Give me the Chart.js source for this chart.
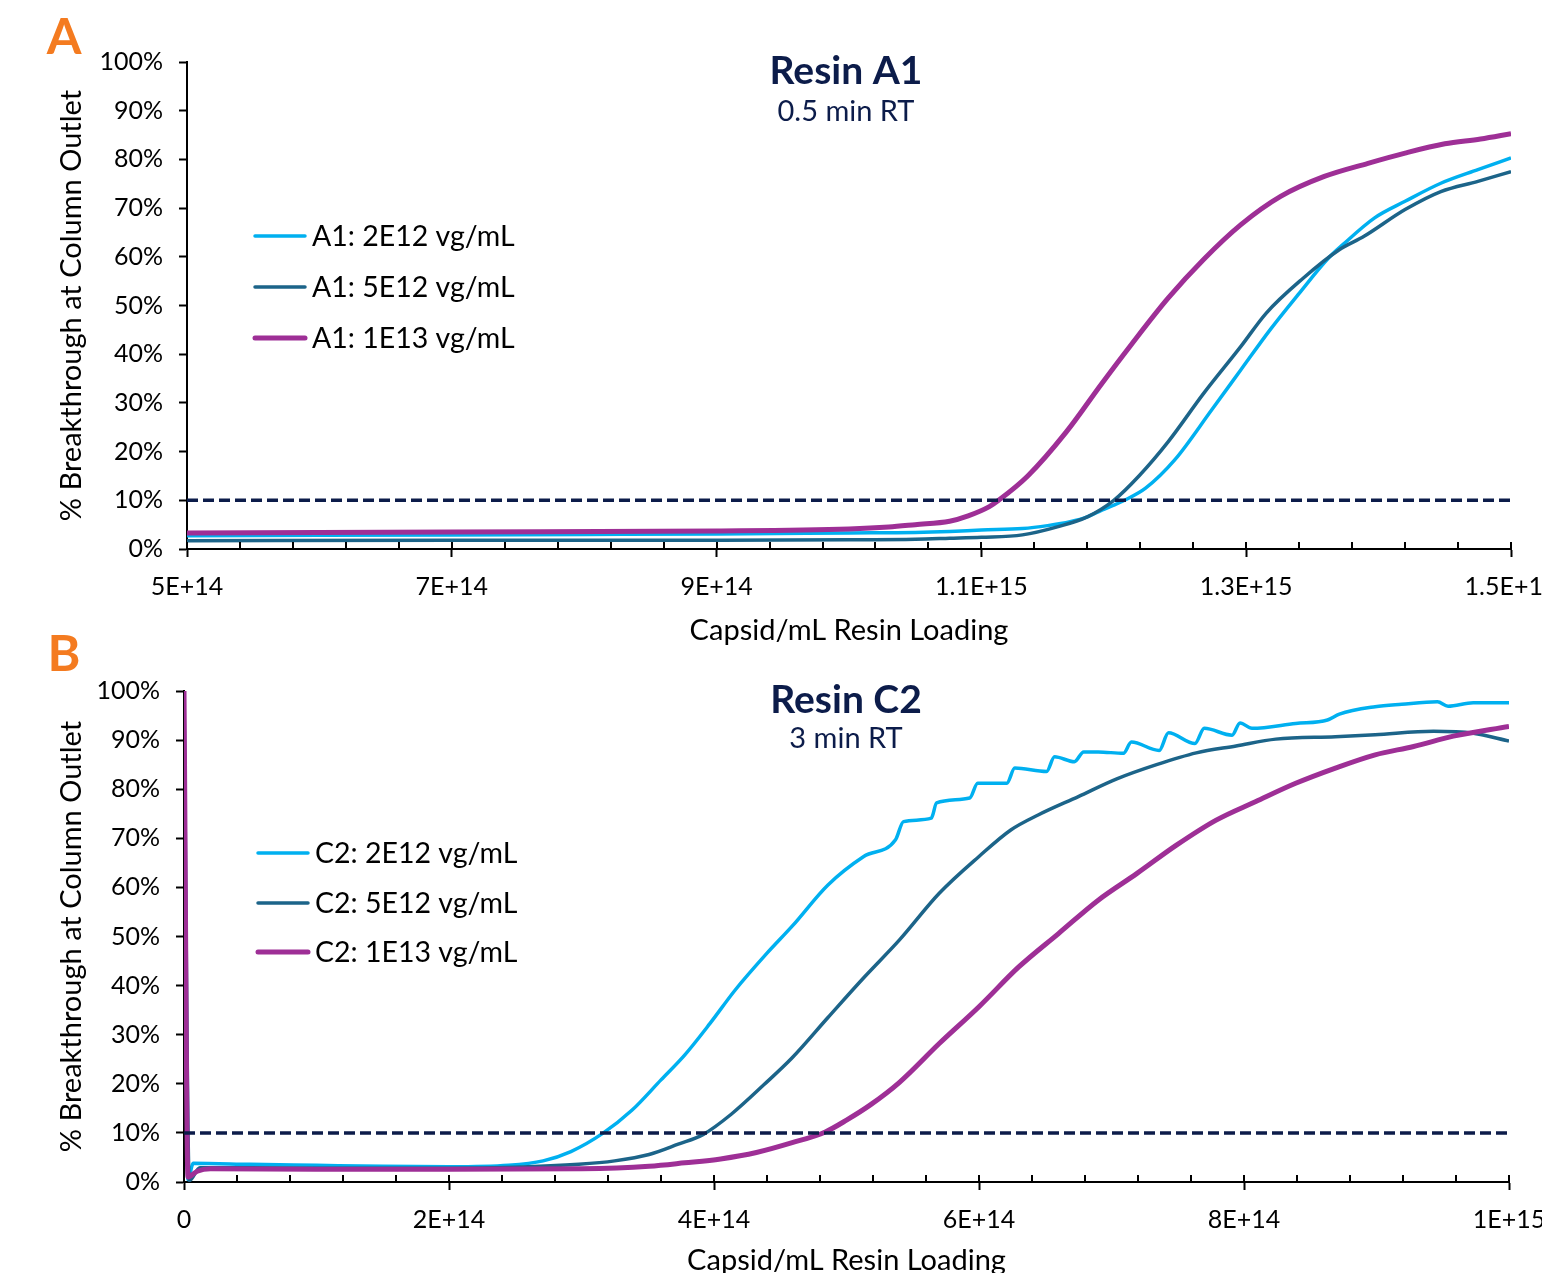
<!DOCTYPE html>
<html>
<head>
<meta charset="utf-8">
<title>Resin breakthrough curves</title>
<script src="https://cdn.jsdelivr.net/npm/chart.js"></script>
<style>
  html, body { margin: 0; padding: 0; background: #fff; }
  #wrap { position: relative; width: 1542px; height: 1273px; overflow: hidden; }
  canvas { position: absolute; left: 0; }
  #chartA { top: 0; }
  #chartB { top: 620px; }
</style>
</head>
<body>
<div id="wrap">
  <canvas id="chartA" width="1542" height="660"></canvas>
  <canvas id="chartB" width="1542" height="653"></canvas>
</div>
<script>
// x values are in units of 1E14 capsids/mL resin, y values in % breakthrough

// --- Panel A : Resin A1, 0.5 min RT ---
const a1LowX  = [5, 6, 7, 8, 9, 10, 10.5, 10.76, 11.0, 11.31, 11.5, 11.67, 11.8, 11.91, 12.0, 12.08, 12.24, 12.46, 12.74, 12.96, 13.18, 13.40, 13.62, 13.73, 13.97, 14.2, 14.47, 14.75, 15.0];
const a1LowY  = [2.7, 2.8, 2.9, 3.0, 3.1, 3.3, 3.4, 3.6, 3.9, 4.2, 4.8, 5.6, 6.6, 8.0, 9.0, 10, 12.5, 18.3, 28.6, 36.8, 45, 52.5, 59.7, 62.5, 68, 71.4, 75.1, 77.9, 80.3];
const a1MidX  = [5, 7, 9, 10, 10.5, 10.76, 11.0, 11.31, 11.58, 11.8, 12.0, 12.19, 12.41, 12.68, 12.96, 13.15, 13.43, 13.70, 13.89, 14.2, 14.47, 14.75, 15.0];
const a1MidY  = [1.7, 1.8, 1.8, 1.9, 2.0, 2.2, 2.4, 2.9, 4.6, 6.6, 10, 15.0, 22, 32, 41.6, 48.4, 55.6, 61.4, 64.2, 69.7, 73.4, 75.5, 77.5];
const a1HighX = [5, 7, 9, 10, 10.3, 10.5, 10.76, 10.9, 11.06, 11.13, 11.35, 11.64, 11.91, 12.13, 12.41, 12.68, 12.96, 13.26, 13.59, 13.92, 14.2, 14.5, 14.77, 15.0];
const a1HighY = [3.3, 3.5, 3.7, 4.1, 4.5, 5.0, 5.7, 6.8, 8.7, 10, 15, 24, 34, 41.9, 51.5, 59.5, 66.6, 72.4, 76.5, 79.2, 81.3, 83.2, 84.2, 85.3];
const a1TickLabels = ['5E+14', '7E+14', '9E+14', '1.1E+15', '1.3E+15', '1.5E+15'];
const a1Legend = ['A1: 2E12 vg/mL', 'A1: 5E12 vg/mL', 'A1: 1E13 vg/mL'];

// --- Panel B : Resin C2, 3 min RT ---
const c2LowX  = [0, 0.03, 0.07, 0.5, 1.0, 1.5, 2.0, 2.45, 2.71, 2.92, 3.16, 3.38, 3.60, 3.78, 3.97, 4.16, 4.40, 4.59, 4.86, 5.13, 5.37, 5.43, 5.64, 5.68, 5.93, 5.99, 6.21, 6.27, 6.51, 6.57, 6.72, 6.79, 6.90, 7.09, 7.15, 7.36, 7.43, 7.63, 7.70, 7.91, 7.97, 8.06, 8.39, 8.63, 8.72, 8.99, 9.19, 9.46, 9.54, 9.73, 10.0];
const c2LowY  = [100, 0.5, 3.8, 3.6, 3.4, 3.2, 3.1, 3.4, 4.3, 6.2, 9.9, 14.6, 20.8, 25.9, 32.3, 39.1, 46.6, 52.1, 60.5, 66.3, 69.7, 73.4, 74.1, 77.2, 78.2, 81.2, 81.2, 84.3, 83.6, 86.6, 85.6, 87.6, 87.6, 87.3, 89.6, 87.9, 91.5, 89.3, 92.4, 91.0, 93.5, 92.4, 93.4, 94.1, 95.3, 96.8, 97.3, 97.8, 96.9, 97.6, 97.6];
const c2MidX  = [0, 0.04, 0.12, 0.5, 1.0, 2.0, 2.5, 2.98, 3.25, 3.51, 3.73, 3.92, 4.13, 4.38, 4.59, 4.86, 5.13, 5.40, 5.70, 6.0, 6.24, 6.45, 6.75, 7.04, 7.34, 7.64, 7.94, 8.24, 8.69, 8.99, 9.43, 9.73, 10.0];
const c2MidY  = [100, 0.3, 2.9, 2.9, 2.8, 2.8, 3.0, 3.6, 4.3, 5.6, 7.7, 9.7, 13.8, 19.9, 25.3, 33.5, 41.6, 49.3, 58.8, 66.3, 71.7, 74.8, 78.5, 82.1, 85.0, 87.4, 88.8, 90.2, 90.7, 91.1, 91.8, 91.4, 89.8];
const c2HighX = [0, 0.03, 0.1, 0.2, 1.0, 2.0, 3.0, 3.51, 3.78, 4.05, 4.32, 4.59, 4.84, 5.0, 5.18, 5.40, 5.70, 6.0, 6.30, 6.60, 6.90, 7.19, 7.49, 7.79, 8.09, 8.39, 8.69, 8.99, 9.28, 9.58, 10.0];
const c2HighY = [100, 1.0, 2.2, 2.7, 2.6, 2.6, 2.7, 3.2, 3.9, 4.7, 6.0, 8.0, 10.2, 12.6, 15.7, 20.3, 28.2, 35.7, 43.8, 50.6, 57.4, 62.8, 68.6, 73.7, 77.5, 81.2, 84.3, 87.0, 88.7, 90.8, 92.8];
const c2TickLabels = ['0', '2E+14', '4E+14', '6E+14', '8E+14', '1E+15'];
const c2Legend = ['C2: 2E12 vg/mL', 'C2: 5E12 vg/mL', 'C2: 1E13 vg/mL'];

const thresholdPct = 10;

const COLORS = ['#00b0f0', '#1c6489', '#9e2f96'];
const WIDTHS = [3.5, 3.5, 5];
const NAVY = '#0c1c4a';
const FONT = 'Lato, "Open Sans", sans-serif';

Chart.defaults.color = '#000';
Chart.defaults.font.family = FONT;

function pairs(xs, ys) {
    return xs.map((x, i) => ({ x: x, y: ys[i] }));
}

function makeChart(canvasId, p) {
    const canvas = document.getElementById(canvasId);
    const ctx = canvas.getContext('2d');

    // one tick every 0.4E14, every fifth one is a labelled major tick
    const nMinor = Math.round((p.xMax - p.xMin) / 0.4);
    const xTicks = [];
    for (let k = 0; k <= nMinor; k++) {
        xTicks.push({ value: +(p.xMin + k * 0.4).toFixed(2), major: k % 5 === 0, label: k % 5 === 0 ? p.tickLabels[k / 5] : '' });
    }

    const series = p.series.map((s, i) => ({
        label: p.legend[i],
        data: pairs(s[0], s[1]),
        borderColor: COLORS[i],
        borderWidth: WIDTHS[i],
        pointRadius: 0,
        fill: false,
        cubicInterpolationMode: 'monotone'
    }));

    // first dataset is painted last in Chart.js, so put the dashed line first
    const datasets = [{
        label: '10% threshold',
        data: [{ x: p.xMin, y: thresholdPct }, { x: p.xMax, y: thresholdPct }],
        borderColor: NAVY,
        borderWidth: 3.5,
        borderDash: [11, 5],
        pointRadius: 0
    }].concat(series.slice().reverse());

    const overlay = {
        id: 'overlay',
        afterDraw(chart) {
            const c = chart.ctx;
            const area = chart.chartArea;
            const xs = chart.scales.x;
            c.save();

            // inner tick marks on the x axis (minor ticks sit inside, majors cross)
            c.strokeStyle = '#000';
            c.lineWidth = 2;
            xs.ticks.forEach((t, i) => {
                const px = Math.round(xs.getPixelForTick(i));
                c.beginPath();
                c.moveTo(px, area.bottom);
                c.lineTo(px, area.bottom - 7);
                c.stroke();
            });

            // panel letter
            c.fillStyle = '#f47b20';
            c.font = 'bold 50px ' + FONT;
            c.textAlign = 'center';
            c.textBaseline = 'middle';
            c.fillText(p.letter, 64, p.letterY);

            // title and subtitle
            c.fillStyle = NAVY;
            c.font = 'bold 39px ' + FONT;
            c.fillText(p.title, 846, p.titleY);
            c.font = '29px ' + FONT;
            c.fillText(p.subtitle, 846, p.subtitleY);

            // legend
            c.textAlign = 'left';
            c.fillStyle = '#000';
            c.font = '28.5px ' + FONT;
            p.legend.forEach((txt, i) => {
                const y = p.legendY[i];
                c.strokeStyle = COLORS[i];
                c.lineWidth = WIDTHS[i];
                c.lineCap = 'round';
                c.beginPath();
                c.moveTo(p.legendX, y);
                c.lineTo(p.legendX + 50, y);
                c.stroke();
                c.fillText(txt, p.legendX + 57, y + 1);
            });
            c.restore();
        }
    };

    return new Chart(ctx, {
        type: 'line',
        data: { datasets: datasets },
        options: {
            responsive: false,
            animation: false,
            layout: { padding: { top: p.plotTop, right: p.rightPad, left: 0, bottom: p.bottomPad } },
            plugins: {
                legend: { display: false },
                tooltip: { enabled: false }
            },
            scales: {
                x: {
                    type: 'linear',
                    min: p.xMin,
                    max: p.xMax,
                    afterBuildTicks: (axis) => { axis.ticks = xTicks.map(t => ({ value: t.value, major: t.major })); },
                    afterFit: (axis) => {
                        axis.height = p.xAxisHeight;
                        axis.paddingLeft = 0;
                        axis.paddingRight = 0;
                    },
                    ticks: {
                        autoSkip: false,
                        maxRotation: 0,
                        padding: 15,
                        font: { size: 25 },
                        callback: (v, i) => xTicks[i] ? xTicks[i].label : ''
                    },
                    grid: {
                        drawOnChartArea: false,
                        drawTicks: true,
                        tickLength: 8,
                        tickWidth: 2,
                        tickColor: (c) => (c.tick && c.tick.major) ? '#000' : 'rgba(0,0,0,0)'
                    },
                    border: { display: true, color: '#000', width: 2 },
                    title: {
                        display: true,
                        text: 'Capsid/mL Resin Loading',
                        font: { size: 29, lineHeight: 1 },
                        padding: { top: 0, bottom: p.xTitlePad }
                    }
                },
                y: {
                    min: 0,
                    max: 100,
                    afterFit: (axis) => {
                        axis.width = p.yAxisWidth;
                        axis.paddingTop = 0;
                        axis.paddingBottom = 0;
                    },
                    ticks: {
                        stepSize: 10,
                        padding: 16,
                        font: { size: 25 },
                        callback: (v) => v + '%'
                    },
                    grid: {
                        drawOnChartArea: false,
                        drawTicks: true,
                        tickLength: 8,
                        tickWidth: 2,
                        tickColor: '#000'
                    },
                    border: { display: true, color: '#000', width: 2 },
                    title: {
                        display: true,
                        text: '% Breakthrough at Column Outlet',
                        font: { size: 29, lineHeight: 1 },
                        padding: { top: 57.5, bottom: 0 }
                    }
                }
            }
        },
        plugins: [overlay]
    });
}

makeChart('chartA', {
    xMin: 5, xMax: 15,
    series: [[a1LowX, a1LowY], [a1MidX, a1MidY], [a1HighX, a1HighY]],
    legend: a1Legend,
    tickLabels: a1TickLabels,
    plotTop: 62, bottomPad: 20, rightPad: 31, yAxisWidth: 187, xAxisHeight: 91, xTitlePad: -5.5,
    letter: 'A', letterY: 38,
    title: 'Resin A1', titleY: 71,
    subtitle: '0.5 min RT', subtitleY: 112,
    legendX: 255, legendY: [236, 287, 338]
});

makeChart('chartB', {
    xMin: 0, xMax: 10,
    series: [[c2LowX, c2LowY], [c2MidX, c2MidY], [c2HighX, c2HighY]],
    legend: c2Legend,
    tickLabels: c2TickLabels,
    plotTop: 71, bottomPad: 0, rightPad: 33, yAxisWidth: 184, xAxisHeight: 91, xTitlePad: -2.5,
    letter: 'B', letterY: 35,
    title: 'Resin C2', titleY: 80,
    subtitle: '3 min RT', subtitleY: 119,
    legendX: 258, legendY: [233, 283, 332]
});
</script>
</body>
</html>
